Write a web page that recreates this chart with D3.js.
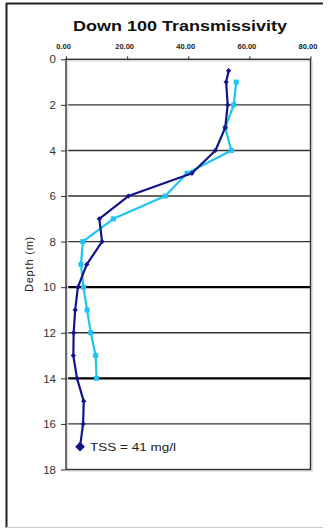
<!DOCTYPE html>
<html>
<head>
<meta charset="utf-8">
<script src="https://cdn.jsdelivr.net/npm/d3@7/dist/d3.min.js"></script>
<style>
  html, body { margin: 0; padding: 0; background: #fff; }
  svg { display: block; font-family: "Liberation Sans", Arial, sans-serif; }
</style>
</head>
<body>
<svg id="chart" width="330" height="529"></svg>
<script>
// Transmissivity profile (%), by depth (m)
const depthsDark = [0.5, 1, 2, 3, 4, 5, 6, 7, 8, 9, 10, 11, 12, 13, 14, 15, 16, 17];
const valuesDark = [53.2, 52.4, 52.9, 52.1, 48.9, 41.2, 20.4, 10.9, 11.8, 6.8, 3.9, 3.0, 2.5, 2.4, 3.6, 5.8, 5.6, 4.6];
const depthsLight = [1, 2, 3, 4, 5, 6, 7, 8, 9, 10, 11, 12, 13, 14];
const valuesLight = [55.7, 54.9, 52.1, 54.1, 39.6, 32.5, 15.5, 5.5, 4.9, 5.7, 6.9, 8.1, 9.7, 10.0];
const xTicks = [0, 20, 40, 60, 80];
const yTicks = [0, 2, 4, 6, 8, 10, 12, 14, 16, 18];
const heavyDepths = [10, 14];
const chartTitle = "Down 100 Transmissivity";
const yTitle = "Depth (m)";
const tssNote = "TSS = 41 mg/l";

const svg = d3.select("#chart");
const plot = { left: 66, right: 310.5, top: 59.3, bottom: 469.5 };

const x = d3.scaleLinear().domain([0, 80]).range([plot.left, plot.right]);
const y = d3.scaleLinear().domain([0, 18]).range([plot.top, plot.bottom]);

// outer frame
svg.append("line").attr("x1", 6.5).attr("x2", 6.5).attr("y1", 3).attr("y2", 528)
  .attr("stroke", "#222").attr("stroke-width", 2);
svg.append("line").attr("x1", 6).attr("x2", 323).attr("y1", 3.5).attr("y2", 3.5)
  .attr("stroke", "#222").attr("stroke-width", 2);
svg.append("line").attr("x1", 6).attr("x2", 323).attr("y1", 527.5).attr("y2", 527.5)
  .attr("stroke", "#ccc").attr("stroke-width", 1);

// title
svg.append("text").attr("x", 180).attr("y", 31).attr("text-anchor", "middle")
  .attr("font-weight", "bold").attr("font-size", 15).attr("fill", "#111")
  .attr("textLength", 214).attr("lengthAdjust", "spacingAndGlyphs")
  .text(chartTitle);

// horizontal gridlines
svg.append("g").selectAll("line")
  .data(yTicks.filter(d => d > 0 && d < 18))
  .join("line")
  .attr("x1", plot.left).attr("x2", plot.right)
  .attr("y1", d => y(d)).attr("y2", d => y(d))
  .attr("stroke", d => heavyDepths.includes(d) ? "#000" : "#333")
  .attr("stroke-width", d => heavyDepths.includes(d) ? 2.2 : 1.4);

// plot border with soft shadow on right/bottom
svg.append("rect").attr("x", plot.left + 1.5).attr("y", plot.top + 1.5)
  .attr("width", plot.right - plot.left).attr("height", plot.bottom - plot.top)
  .attr("fill", "none").attr("stroke", "#ddd").attr("stroke-width", 1.5);
svg.append("rect").attr("x", plot.left).attr("y", plot.top)
  .attr("width", plot.right - plot.left).attr("height", plot.bottom - plot.top)
  .attr("fill", "none").attr("stroke", "#333").attr("stroke-width", 1.4);

// top axis
const xAxis = d3.axisTop(x).tickValues(xTicks).tickSize(3).tickFormat(d3.format(".2f"));
const gx = svg.append("g").attr("transform", `translate(0,${plot.top})`).call(xAxis);
gx.select(".domain").remove();
gx.selectAll(".tick line").attr("stroke", "#333");
gx.selectAll(".tick text").attr("font-size", 7.5).attr("font-weight", "bold")
  .attr("font-family", "'Liberation Sans Narrow', 'Liberation Sans', Arial, sans-serif")
  .attr("fill", "#222").attr("dx", -3).attr("y", -10);

// left axis
const yAxis = d3.axisLeft(y).tickValues(yTicks).tickSize(5).tickFormat(d3.format("d"));
const gy = svg.append("g").attr("transform", `translate(${plot.left},0)`).call(yAxis);
gy.select(".domain").remove();
gy.selectAll(".tick line").attr("stroke", "#333");
gy.selectAll(".tick text").attr("font-size", 11.5).attr("fill", "#333").attr("x", -10);

// y title
svg.append("text").attr("transform", `translate(33,${264}) rotate(-90)`)
  .attr("text-anchor", "middle").attr("font-size", 11).attr("fill", "#222")
  .attr("letter-spacing", 0.8)
  .text(yTitle);

const line = d3.line().x(d => x(d[1])).y(d => y(d[0]));

const light = d3.zip(depthsLight, valuesLight);
const dark = d3.zip(depthsDark, valuesDark);
const lightColor = "#1fc4f4";
const darkColor = "#14148a";

svg.append("path").datum(light).attr("d", line)
  .attr("fill", "none").attr("stroke", lightColor).attr("stroke-width", 2.2)
  .attr("stroke-linejoin", "round");
svg.append("g").selectAll("rect").data(light).join("rect")
  .attr("x", d => x(d[1]) - 2.5).attr("y", d => y(d[0]) - 2.5)
  .attr("width", 5).attr("height", 5).attr("fill", lightColor);

svg.append("path").datum(dark).attr("d", line)
  .attr("fill", "none").attr("stroke", darkColor).attr("stroke-width", 2.2)
  .attr("stroke-linejoin", "round");
svg.append("g").selectAll("path").data(dark).join("path")
  .attr("d", (d, i) => d3.symbol(d3.symbolDiamond2, i === dark.length - 1 ? 60 : 18)())
  .attr("transform", d => `translate(${x(d[1])},${y(d[0])})`)
  .attr("fill", darkColor);

// note beside the deepest sample
const last = dark[dark.length - 1];
svg.append("text").attr("x", x(last[1]) + 10).attr("y", y(last[0]) + 4)
  .attr("font-size", 11).attr("fill", "#222")
  .attr("textLength", 86).attr("lengthAdjust", "spacingAndGlyphs")
  .text(tssNote);
</script>
</body>
</html>
